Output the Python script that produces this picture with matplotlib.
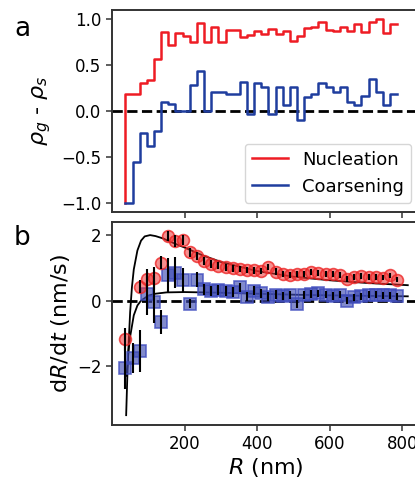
import numpy as np
import matplotlib
matplotlib.use("Agg")
import matplotlib.pyplot as plt

# ---------------- data ----------------
bin_start = 37.0
bin_width = 19.7

# panel a: rho_g - rho_s per radius bin (first entry = starting point)
nucleation_rho = [-1.0, 0.19, 0.19, 0.30, 0.34, 0.57, 0.86, 0.72, 0.85, 0.82, 0.75,
                  0.96, 0.75, 0.91, 0.75, 0.88, 0.88, 0.81, 0.83, 0.87, 0.84,
                  0.89, 0.84, 0.87, 0.76, 0.82, 0.90, 0.91, 0.97, 0.88, 0.87,
                  0.91, 0.87, 0.95, 0.86, 0.97, 1.00, 0.85, 0.95]
coarsening_rho = [-1.0, -1.0, -0.555, -0.24, -0.38, -0.22, 0.098, 0.072, 0.0, 0.0, 0.287,
                  0.44, 0.0, 0.21, 0.21, 0.19, 0.19, 0.32, -0.03, 0.31, 0.26,
                  -0.03, 0.26, 0.07, 0.26, -0.095, 0.15, 0.18, 0.31, 0.26, 0.21,
                  0.26, 0.098, 0.06, 0.16, 0.35, 0.21, 0.07, 0.19]

# panel b: dR/dt per radius bin
nucleation_rate = [-1.18, np.nan, 0.43, 0.66, 0.68, 1.15, 1.96, 1.83, 1.84, 1.48,
                   1.36, 1.22, 1.12, 1.06, 1.02, 0.99, 0.96, 0.94, 0.92, 0.90,
                   1.03, 0.88, 0.80, 0.78, 0.80, 0.82, 0.88, 0.84, 0.82, 0.80,
                   0.77, 0.65, 0.72, 0.75, 0.72, 0.72, 0.70, 0.77, 0.64]
nucleation_err = [0.35, 0.0, 0.2, 0.3, 0.35, 0.2, 0.15, 0.18, 0.15, 0.14,
                  0.13, 0.12, 0.12, 0.11, 0.11, 0.11, 0.1, 0.1, 0.1, 0.1,
                  0.1, 0.1, 0.09, 0.09, 0.09, 0.09, 0.09, 0.09, 0.09, 0.09,
                  0.09, 0.09, 0.08, 0.08, 0.08, 0.08, 0.08, 0.08, 0.08]
coarsening_rate = [-2.05, -1.76, -1.53, 0.20, -0.05, -0.66, 0.77, 0.85, 0.63, -0.09,
                   0.64, 0.34, 0.30, 0.32, 0.30, 0.27, 0.40, 0.12, 0.30, 0.22,
                   0.12, 0.18, 0.14, 0.18, -0.10, 0.18, 0.20, 0.22, 0.18, 0.14,
                   0.18, 0.00, 0.10, 0.13, 0.18, 0.18, 0.16, 0.16, 0.13]
coarsening_err = [0.65, 0.45, 0.64, 0.64, 0.64, 0.36, 0.53, 0.47, 0.38, 0.15,
                  0.23, 0.18, 0.16, 0.15, 0.15, 0.15, 0.15, 0.14, 0.14, 0.13,
                  0.13, 0.13, 0.12, 0.12, 0.12, 0.12, 0.12, 0.11, 0.11, 0.11,
                  0.11, 0.11, 0.1, 0.1, 0.1, 0.1, 0.1, 0.1, 0.1]

# model curves
fit1_R = [39, 42, 45, 50, 55, 60, 70, 80, 90, 105, 120, 140, 160, 200, 250,
          300, 400, 500, 600, 700, 815]
fit1_v = [-3.5, -2.4, -1.5, -0.35, 0.42, 0.95, 1.53, 1.83, 1.96, 2.0, 1.97,
          1.9, 1.8, 1.62, 1.38, 1.18, 0.9, 0.73, 0.62, 0.54, 0.47]
fit2_R = [40, 45, 50, 60, 70, 80, 100, 120, 150, 200, 250, 300, 400, 500,
          600, 700, 815]
fit2_v = [-2.3, -1.6, -1.1, -0.45, -0.15, 0.0, 0.15, 0.21, 0.25, 0.26, 0.25,
          0.24, 0.21, 0.18, 0.16, 0.145, 0.13]

x_ticks = [200, 400, 600, 800]

# ---------------- figure ----------------
plt.rcParams['font.family'] = ['DejaVu Sans']
fig = plt.figure(figsize=(4.15, 4.83), dpi=100)
W, H = 415.0, 483.0
left_px, right_px = 112.0, 420.5
axa = fig.add_axes([left_px / W, 1 - 212 / H, (right_px - left_px) / W, 202 / H])
axb = fig.add_axes([left_px / W, 1 - 425 / H, (right_px - left_px) / W, 203 / H])

edges = bin_start + bin_width * np.arange(len(nucleation_rho))

red_line = '#ee1c24'
blue_line = '#1f3d9e'
spine_c = '#333333'

axa.plot(edges, nucleation_rho, drawstyle='steps', color=red_line, lw=1.8,
         label='Nucleation')
axa.plot(edges, coarsening_rho, drawstyle='steps', color=blue_line, lw=1.8,
         label='Coarsening')
axa.axhline(0, color='k', ls='--', lw=2, zorder=1)
axa.set_ylim(-1.1, 1.1)
axa.set_yticks([-1.0, -0.5, 0.0, 0.5, 1.0])
axa.set_ylabel(r'$\rho_g$ - $\rho_s$', fontsize=16, labelpad=6)
leg = axa.legend(loc='lower right', fontsize=13, frameon=True, handlelength=2.0)
leg.get_frame().set_edgecolor('#cccccc')

# panel b
axb.axhline(0, color='k', ls='--', lw=2, zorder=1)
axb.plot(fit1_R, fit1_v, color='k', lw=1.3, zorder=2)
axb.plot(fit2_R, fit2_v, color='k', lw=1.3, zorder=2)
axb.plot(edges, coarsening_rate, ls='none', marker='s', ms=8.5,
         mfc=(0.25, 0.3, 0.7, 0.65), mec=(0.25, 0.3, 0.75, 0.8), mew=1.2, zorder=3)
axb.plot(edges, nucleation_rate, ls='none', marker='o', ms=8.5,
         mfc=(0.93, 0.2, 0.2, 0.55), mec=(0.93, 0.15, 0.15, 0.8), mew=1.2, zorder=3)
axb.errorbar(edges, coarsening_rate, yerr=coarsening_err, fmt='none', ecolor='k',
             elinewidth=1.5, capsize=0, zorder=4)
axb.errorbar(edges, nucleation_rate, yerr=nucleation_err, fmt='none', ecolor='k',
             elinewidth=1.5, capsize=0, zorder=4)
axb.set_ylim(-3.8, 2.4)
axb.set_yticks([-2, 0, 2])
axb.set_ylabel(r'd$R$/d$t$ (nm/s)', fontsize=16, labelpad=4)
axb.set_xlabel(r'$R$ (nm)', fontsize=16, labelpad=2)

for ax in (axa, axb):
    ax.set_xlim(0, 850)
    ax.set_xticks(x_ticks)
    for s in ax.spines.values():
        s.set_color(spine_c)
        s.set_linewidth(1.4)
    ax.tick_params(direction='out', length=4, width=1.1, color=spine_c,
                   labelsize=12, labelcolor='k')
axa.tick_params(labelbottom=False)

fig.text(14 / W, 1 - 36 / H, 'a', fontsize=19)
fig.text(14 / W, 1 - 245 / H, 'b', fontsize=19)

fig.savefig('out.png', dpi=100)
